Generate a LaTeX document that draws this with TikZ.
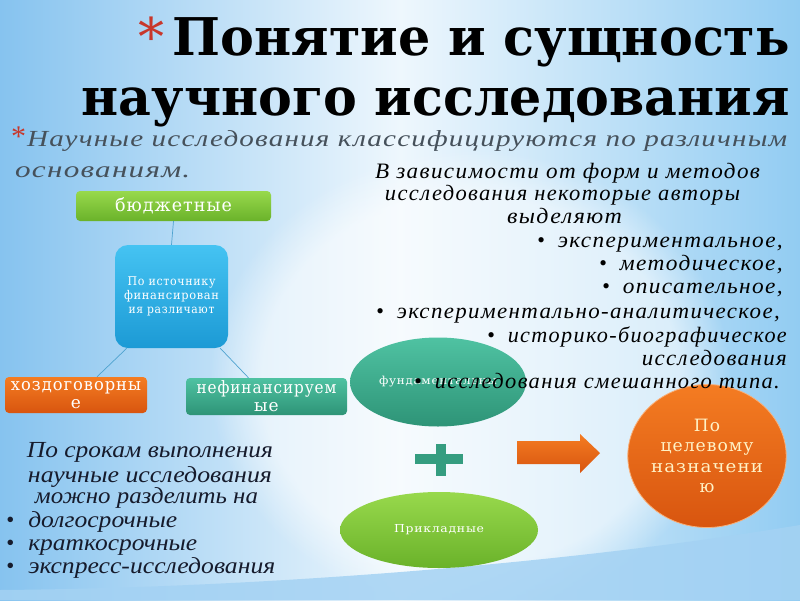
\documentclass[tikz,border=0pt]{standalone}
\usepackage{fontspec}
\usepackage{graphicx}
\setmainfont{Liberation Serif}
\newfontfamily\titf{DejaVu Serif}
\newfontfamily\itf{Liberation Serif}[LetterSpace=6]
\newfontfamily\cnf{Liberation Serif}
\newfontfamily\subf{Liberation Serif}[LetterSpace=4]
\newfontfamily\boxf{DejaVu Serif}[LetterSpace=6]
\usetikzlibrary{shapes.geometric,fadings}
\newcommand\fitw[2]{\resizebox{#1pt}{\height}{#2}}
\definecolor{bgL}{HTML}{86C3EF}
\definecolor{bgM}{HTML}{EEF7FD}
\definecolor{bgR}{HTML}{92CCF2}
\definecolor{grnT}{HTML}{98D94C}
\definecolor{grnB}{HTML}{6AB22A}
\definecolor{bluT}{HTML}{45C3F2}
\definecolor{bluB}{HTML}{1C9AD5}
\definecolor{orT}{HTML}{F47C22}
\definecolor{orB}{HTML}{D8550F}
\definecolor{tlT}{HTML}{4FC2A2}
\definecolor{tlB}{HTML}{2E9477}
\definecolor{starred}{HTML}{C8372B}
\definecolor{subgrey}{HTML}{46515B}
\definecolor{navy}{HTML}{161B2C}
\definecolor{linkc}{HTML}{4FA3CF}
\definecolor{cream}{HTML}{FFF2C6}
\tikzset{
  rbox/.style={rounded corners=4pt, text=white, align=center, inner sep=0pt},
  conn/.style={draw=linkc, line width=0.7pt},
  bodytxt/.style={inner sep=0pt, text=black, font=\itf\itshape\fontsize{22}{24}\selectfont},
  condtxt/.style={inner sep=0pt, text=navy, font=\cnf\itshape\fontsize{23}{25}\selectfont},
}
\begin{document}
\begin{tikzpicture}[x=1pt,y=-1pt]
\useasboundingbox (0,0) rectangle (800,600);
% background
\shade[left color=bgL, right color=bgR, middle color=bgM] (0,0) rectangle (800,600);
\fill[white, opacity=0.55, path fading=circle with fuzzy edge 20 percent] (470,380) ellipse [x radius=260, y radius=230];
\fill[bgL!75!white, opacity=0.85] (0,600) -- (0,590) .. controls (250,588) and (560,565) .. (800,525) -- (800,600) -- cycle;

% title
\node[anchor=base east, inner sep=0pt, font=\titf\fontsize{52}{56}\selectfont] (t1) at (790,55) {\textcolor{starred}{*}\,\bfseries\fitw{617}{Понятие и сущность}};
\node[anchor=base east, inner sep=0pt, font=\titf\bfseries\fontsize{52}{56}\selectfont] (t2) at (790,115) {\fitw{708}{научного исследования}};
\node[anchor=base west, inner sep=0pt, text=subgrey, font=\subf\itshape\fontsize{23}{25}\selectfont] (s1) at (11,146) {\textcolor{starred}{\upshape\fontsize{30}{30}\selectfont *}\hspace{1pt}\fitw{760}{Научные исследования классифицируются по различным}};
\node[anchor=base west, inner sep=0pt, text=subgrey, font=\subf\itshape\fontsize{23}{25}\selectfont] (s2) at (15,177) {\fitw{175}{основаниям.}};

% financing cluster
\node[rbox, minimum width=195, minimum height=30, top color=grnT, bottom color=grnB, font=\boxf\fontsize{18}{20}\selectfont] (bud) at (173.5,206) {\fitw{117}{бюджетные}};
\node[rbox, rounded corners=13pt, minimum width=113, minimum height=103, top color=bluT, bottom color=bluB, font=\boxf\fontsize{12}{14}\selectfont] (src) at (171.5,296.5) {\fitw{88}{По источнику}\\\fitw{95}{финансирован}\\\fitw{86}{ия различают}};
\node[rbox, minimum width=142, minimum height=36, top color=orT, bottom color=orB, font=\boxf\fontsize{17}{18}\selectfont] (hoz) at (76,395) {\fitw{130}{хоздоговорны}\\е};
\node[rbox, minimum width=161, minimum height=37, top color=tlT, bottom color=tlB, font=\boxf\fontsize{17}{18}\selectfont] (nef) at (266.5,396.5) {\fitw{140}{нефинансируем}\\ые};
\draw[conn] (bud.south) -- (src.north);
\draw[conn] ([xshift=12]src.south west) -- ([xshift=21]hoz.north);
\draw[conn] ([xshift=-8]src.south east) -- ([xshift=-18]nef.north);

% purpose cluster
\node[ellipse, minimum width=176, minimum height=89, inner sep=0pt, top color=tlT, bottom color=tlB, text=white, font=\boxf\fontsize{11}{13}\selectfont] (fund) at (438,382) {\raisebox{3pt}{\fitw{118}{фундаментальны}}};
\node[ellipse, minimum width=198, minimum height=76, inner sep=0pt, top color=grnT, bottom color=grnB, text=white, font=\boxf\fontsize{11}{13}\selectfont] (appl) at (439,530) {\fitw{90}{Прикладные}};
\fill[tlB!80!tlT] (415,454) rectangle (463,464);
\fill[tlB!80!tlT] (436,444) rectangle (446,476);
\shade[top color=orT, bottom color=orB] (517,441) -- (580,441) -- (580,434) -- (600,453) -- (580,473) -- (580,464) -- (517,464) -- cycle;
\node[ellipse, minimum width=158, minimum height=143, inner sep=0pt, draw=orT!60!white, line width=0.8pt, top color=orT, bottom color=orB, text=cream, align=center, font=\boxf\fontsize{17}{20.5}\selectfont] (purp) at (707,456) {По\\\fitw{93}{целевому}\\\fitw{112}{назначени}\\ю};

% right text
\node[anchor=base, bodytxt] (r1) at (567.5,178) {\fitw{385}{В зависимости от форм и методов}};
\node[anchor=base, bodytxt] (r2) at (562.5,200) {\fitw{355}{исследования некоторые авторы}};
\node[anchor=base, bodytxt] (r3) at (564.5,223) {\fitw{115}{выделяют}};
\node[anchor=base east, bodytxt] (r4) at (783,247) {•\hspace{13pt}\fitw{225}{экспериментальное,}};
\node[anchor=base east, bodytxt] (r5) at (783,270) {•\hspace{13pt}\fitw{163}{методическое,}};
\node[anchor=base east, bodytxt] (r6) at (783,293) {•\hspace{13pt}\fitw{160}{описательное,}};
\node[anchor=base east, bodytxt] (r7) at (780,318) {•\hspace{13pt}\fitw{383}{экспериментально-аналитическое,}};
\node[anchor=base east, bodytxt] (r8) at (787,342) {•\hspace{13pt}\fitw{279}{историко-биографическое}};
\node[anchor=base east, bodytxt] (r9) at (787,365) {\fitw{145}{исследования}};
\node[anchor=base east, bodytxt] (r10) at (780,388) {•\hspace{13pt}\fitw{345}{исследования смешанного типа.}};

% left-bottom text
\node[anchor=base, condtxt] (l1) at (150,457) {\fitw{246}{По срокам выполнения}};
\node[anchor=base, condtxt] (l2) at (150,482) {\fitw{244}{научные исследования}};
\node[anchor=base, condtxt] (l3) at (146.5,503) {\fitw{223}{можно разделить на}};
\node[anchor=base west, condtxt] (l4) at (6,527) {•\hspace{14pt}\fitw{149}{долгосрочные}};
\node[anchor=base west, condtxt] (l5) at (6,550) {•\hspace{14pt}\fitw{169}{краткосрочные}};
\node[anchor=base west, condtxt] (l6) at (6,573) {•\hspace{14pt}\fitw{247}{экспресс-исследования}};
\end{tikzpicture}
\end{document}
